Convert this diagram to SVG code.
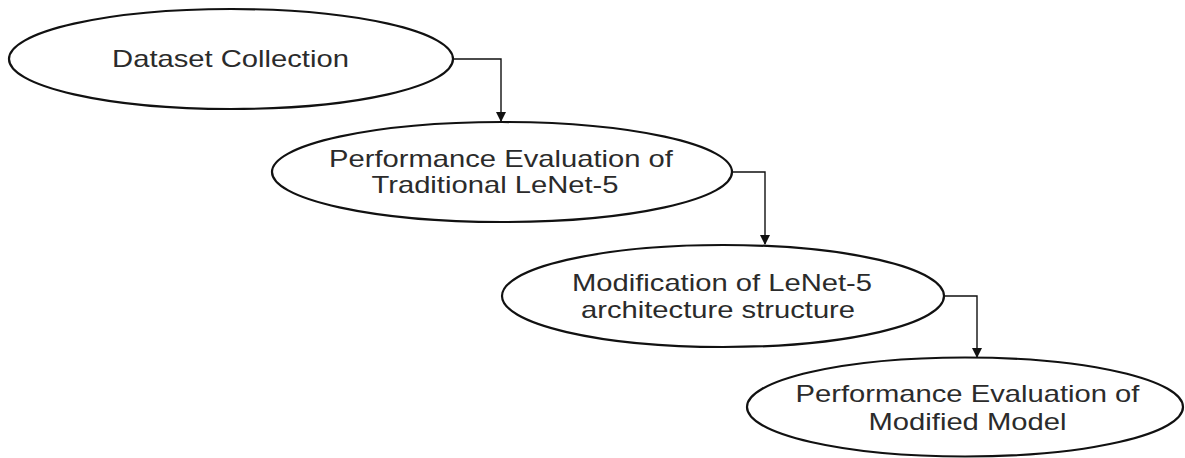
<svg xmlns="http://www.w3.org/2000/svg" width="1185" height="458" viewBox="0 0 1185 458">
<style>
.node ellipse{fill:#fff;stroke:#111;stroke-width:2.2}
.node text{font-family:"Liberation Sans",Arial,sans-serif;font-size:23px;fill:#2b2b2b;text-anchor:middle}
.conn path{fill:none;stroke:#111;stroke-width:1.4}
</style>
<defs>
<marker id="arr" markerWidth="10" markerHeight="10" refX="9" refY="5" orient="auto" markerUnits="userSpaceOnUse">
<path d="M0,0 L10,5 L0,10 Z" fill="#111"/>
</marker>
</defs>
<rect width="1185" height="458" fill="#fff"/>
<g id="connectors" class="conn">
<path d="M453,59 H501 V121" marker-end="url(#arr)"/>
<path d="M732,172 H765 V244" marker-end="url(#arr)"/>
<path d="M944,296 H977 V357" marker-end="url(#arr)"/>
</g>
<g id="node1" class="node">
<ellipse cx="231" cy="59" rx="222" ry="50"/>
<text transform="matrix(1.27,0,0,1,230.5,67)">Dataset Collection</text>
</g>
<g id="node2" class="node">
<ellipse cx="502" cy="172" rx="230" ry="50"/>
<text transform="matrix(1.27,0,0,1,501,167)">Performance Evaluation of</text>
<text transform="matrix(1.27,0,0,1,495,193)">Traditional LeNet-5</text>
</g>
<g id="node3" class="node">
<ellipse cx="723" cy="296" rx="221" ry="51"/>
<text transform="matrix(1.27,0,0,1,722,291)">Modification of LeNet-5</text>
<text transform="matrix(1.27,0,0,1,718,318)">architecture structure</text>
</g>
<g id="node4" class="node">
<ellipse cx="965" cy="407" rx="218" ry="49.5"/>
<text transform="matrix(1.27,0,0,1,967.5,402)">Performance Evaluation of</text>
<text transform="matrix(1.27,0,0,1,967.5,430)">Modified Model</text>
</g>
</svg>
